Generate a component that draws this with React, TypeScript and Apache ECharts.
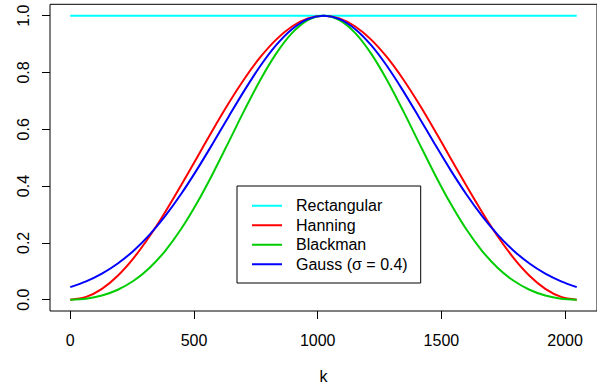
import React, { useEffect, useRef } from "react";
import * as echarts from "echarts";

const K = [0, 64, 128, 192, 256, 320, 384, 448, 512, 576, 640, 704, 768, 832, 896, 960, 1024,
  1088, 1152, 1216, 1280, 1344, 1408, 1472, 1536, 1600, 1664, 1728, 1792, 1856, 1920, 1984, 2047];
const RECT_K = [0, 2047];
const RECTANGULAR = [1, 1];
const HANNING = [0, 0.0096, 0.0381, 0.0843, 0.1464, 0.2222, 0.3087, 0.4025, 0.5, 0.5975, 0.6913, 0.7778, 0.8536, 0.9157, 0.9619, 0.9904, 1.0,
  0.9904, 0.9619, 0.9157, 0.8536, 0.7778, 0.6913, 0.5975, 0.5, 0.4025, 0.3087, 0.2222, 0.1464, 0.0843, 0.0381, 0.0096, 0];
const BLACKMAN = [0, 0.0035, 0.0146, 0.0349, 0.0664, 0.1116, 0.1721, 0.2485, 0.34, 0.4436, 0.5548, 0.6672, 0.7736, 0.8663, 0.9385, 0.9843, 1.0,
  0.9843, 0.9385, 0.8663, 0.7736, 0.6672, 0.5548, 0.4436, 0.34, 0.2485, 0.1721, 0.1116, 0.0664, 0.0349, 0.0146, 0.0035, 0];
const GAUSS = [0.0439, 0.0641, 0.0914, 0.1271, 0.1724, 0.2283, 0.295, 0.372, 0.4578, 0.5498, 0.6444, 0.737, 0.8226, 0.896, 0.9523, 0.9879, 1.0,
  0.9879, 0.9523, 0.896, 0.8226, 0.737, 0.6444, 0.5498, 0.4578, 0.372, 0.295, 0.2283, 0.1724, 0.1271, 0.0914, 0.0641, 0.0439];
const X_TICKS = [0, 500, 1000, 1500, 2000];
const Y_TICKS = [0, 0.2, 0.4, 0.6, 0.8, 1.0];
const NAMES = ["Rectangular", "Hanning", "Blackman", "Gauss (σ = 0.4)"];
const COLORS = ["#00FFFF", "#FF0000", "#00CD00", "#0000FF"];

const FONT = "'Liberation Sans', Arial, Helvetica, sans-serif";

export default function App() {
  const ref = useRef<HTMLDivElement>(null);
  useEffect(() => {
    document.body.style.margin = "0";
    const chart = echarts.init(ref.current!, null, { renderer: "svg" });
    const pairs = (xs: number[], ys: number[]) => xs.map((x, i) => [x, ys[i]]);
    const datasets = [
      pairs(RECT_K, RECTANGULAR),
      pairs(K, HANNING),
      pairs(K, BLACKMAN),
      pairs(K, GAUSS),
    ];
    chart.setOption({
      animation: false,
      grid: {
        left: 50,
        top: 4.3,
        width: 558.7,
        height: 307.1,
        show: true,
        borderColor: "#000",
        borderWidth: 1,
        backgroundColor: "transparent",
        containLabel: false,
      },
      xAxis: {
        type: "value",
        min: -81.88,
        max: 2128.88,
        name: "k",
        nameLocation: "middle",
        nameGap: 57,
        nameTextStyle: { fontSize: 16, color: "#000", fontFamily: FONT },
        axisLine: { show: false, onZero: false },
        splitLine: { show: false },
        axisTick: { show: true, customValues: X_TICKS, length: 8, lineStyle: { color: "#000", width: 1 } },
        axisLabel: {
          customValues: X_TICKS,
          fontSize: 16,
          color: "#000",
          fontFamily: FONT,
          margin: 21,
          formatter: (v: number) => String(v),
        },
      },
      yAxis: {
        type: "value",
        min: -0.04,
        max: 1.04,
        axisLine: { show: false, onZero: false },
        splitLine: { show: false },
        axisTick: { show: true, customValues: Y_TICKS, length: 8, lineStyle: { color: "#000", width: 1 } },
        axisLabel: {
          customValues: Y_TICKS,
          rotate: 90,
          fontSize: 16,
          color: "#000",
          fontFamily: FONT,
          margin: 19,
          formatter: (v: number) => v.toFixed(1),
        },
      },
      legend: {
        orient: "vertical",
        left: 237,
        top: 186,
        padding: [10, 13, 9, 15],
        itemGap: 0,
        itemWidth: 30,
        itemHeight: 2,
        icon: "rect",
        backgroundColor: "#fff",
        borderColor: "#000",
        borderWidth: 1,
        borderRadius: 0,
        data: NAMES,
        textStyle: { fontSize: 16, color: "#000", fontFamily: FONT, lineHeight: 19.5, padding: [0, 0, 0, 9] },
      },
      series: NAMES.map((name, i) => ({
        name,
        type: "line",
        data: datasets[i],
        showSymbol: false,
        smooth: 0.3,
        lineStyle: { color: COLORS[i], width: 2 },
        itemStyle: { color: COLORS[i] },
        z: 2 + i,
      })),
    });
    return () => chart.dispose();
  }, []);
  return <div ref={ref} style={{ width: 597, height: 389 }} />;
}
